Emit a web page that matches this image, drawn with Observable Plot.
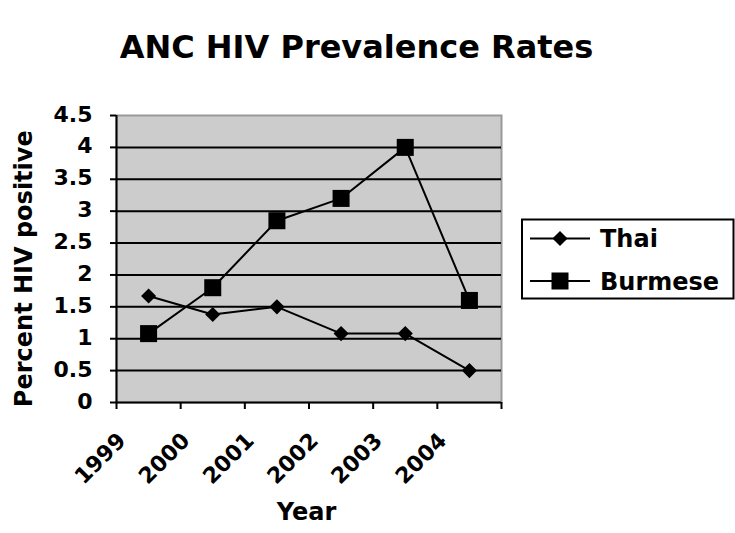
<!DOCTYPE html>
<html>
<head>
<meta charset="utf-8">
<script src="https://cdn.jsdelivr.net/npm/d3@7"></script>
<script src="https://cdn.jsdelivr.net/npm/@observablehq/plot@0.6"></script>
<style>
  html, body { margin: 0; padding: 0; background: white; }
</style>
</head>
<body>
<div id="chart"></div>
<script>
const title = "ANC HIV Prevalence Rates";
const xLabel = "Year";
const yLabel = "Percent HIV positive";
const years = [1999, 2000, 2001, 2002, 2003, 2004];
const xBoundaries = [1999, 2000, 2001, 2002, 2003, 2004, 2005];
const yTicks = [0, 0.5, 1, 1.5, 2, 2.5, 3, 3.5, 4, 4.5];
const seriesNames = ["Thai", "Burmese"];
const thai = [1.67, 1.38, 1.5, 1.08, 1.08, 0.5];
const burmese = [1.08, 1.8, 2.85, 3.2, 4.0, 1.6];

const thaiData = years.map((y, i) => ({year: y, value: thai[i], series: "Thai"}));
const burData = years.map((y, i) => ({year: y, value: burmese[i], series: "Burmese"}));
const all = thaiData.concat(burData);
const mid = d => d.year + 0.5; // categories plotted between tick boundaries

const font = "DejaVu Sans";

const chart = Plot.plot({
  width: 735,
  height: 533,
  marginLeft: 116,
  marginRight: 234,
  marginTop: 115,
  marginBottom: 131,
  style: {fontFamily: font, fontWeight: "bold", background: "white", color: "black", overflow: "visible"},
  x: {domain: [1999, 2005]},
  y: {domain: [0, 4.5]},
  marks: [
    Plot.frame({fill: "#cccccc", stroke: "#999999", strokeWidth: 2}),
    Plot.ruleY(yTicks.filter(v => v > 0 && v < 4.5), {stroke: "black", strokeWidth: 2}),
    Plot.ruleY([0], {stroke: "black", strokeWidth: 2}),
    Plot.ruleX([1999], {stroke: "black", strokeWidth: 2}),
    Plot.axisX({ticks: xBoundaries, tickSize: 7, tickFormat: () => "", label: null, strokeWidth: 2}),
    Plot.text(years, {x: d => d, frameAnchor: "bottom", rotate: -45, textAnchor: "end", dx: 10.5, dy: 39.5, fontSize: 22, fontWeight: "bold", text: d => String(d)}),
    Plot.axisY({ticks: yTicks, tickSize: 6, tickFormat: () => "", label: null, strokeWidth: 2}),
    Plot.text(yTicks, {y: d => d, frameAnchor: "left", textAnchor: "end", dx: -24, dy: -1, fontSize: 22, fontWeight: "bold", text: d => String(d)}),
    Plot.line(all, {x: mid, y: "value", z: "series", stroke: "black", strokeWidth: 2}),
    Plot.dot(thaiData, {x: mid, y: "value", symbol: "diamond2", r: 6.8, fill: "black", stroke: "none"}),
    Plot.dot(burData, {x: mid, y: "value", symbol: "square", r: 9.6, fill: "black", stroke: "none"}),
    Plot.text([xLabel], {frameAnchor: "bottom", textAnchor: "middle", dx: -2.5, dy: 117.8, fontSize: 24, fontWeight: "bold", text: d => d}),
    Plot.text([yLabel], {frameAnchor: "left", textAnchor: "middle", rotate: -90, dx: -91.7, dy: 9.7, fontSize: 24, fontWeight: "bold", text: d => d}),
    Plot.text([title], {frameAnchor: "top", textAnchor: "middle", dx: 47.5, dy: -80.7, fontSize: 32, fontWeight: "bold", text: d => d})
  ]
});

document.getElementById("chart").appendChild(chart);

// Legend
const svg = d3.select(chart);
const lg = svg.append("g").attr("font-family", font).attr("font-weight", "bold").attr("font-size", 24).attr("text-anchor", "start");
lg.append("rect").attr("x", 522).attr("y", 219.5).attr("width", 211.5).attr("height", 79)
  .attr("fill", "white").attr("stroke", "black").attr("stroke-width", 2);
const rowsY = [238.5, 281];
const symbols = [d3.symbolDiamond2, d3.symbolSquare];
const radii = [6.8, 9.6];
seriesNames.forEach((name, i) => {
  const y = rowsY[i];
  lg.append("line").attr("x1", 530).attr("x2", 590).attr("y1", y).attr("y2", y)
    .attr("stroke", "black").attr("stroke-width", 2);
  lg.append("path").attr("transform", `translate(560,${y})`)
    .attr("d", d3.symbol(symbols[i], Math.PI * radii[i] * radii[i])())
    .attr("fill", "black");
  lg.append("text").attr("x", 600).attr("y", y).attr("dy", "0.36em").attr("text-anchor", "start").attr("fill", "black").text(name);
});
</script>
</body>
</html>
